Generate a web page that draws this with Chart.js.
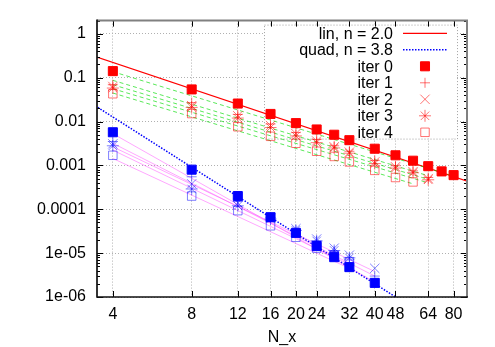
<!DOCTYPE html>
<html><head><meta charset="utf-8">
<style>html,body{margin:0;padding:0;background:#fff;overflow:hidden}</style>
<script src="https://cdn.jsdelivr.net/npm/chart.js"></script>
</head><body>
<canvas id="c" width="495" height="347" style="display:block;width:495px;height:347px"></canvas>
<script>
// ---- tick labels ----
const xTicks = [4, 8, 12, 16, 20, 24, 32, 40, 48, 64, 80];
const yTicks = [1e-6, 1e-5, 1e-4, 1e-3, 1e-2, 1e-1, 1];
const yTickLabels = ['1e-06', '1e-05', '0.0001', '0.001', '0.01', '0.1', '1'];
const legendLabels = ['lin, n = 2.0', 'quad, n = 3.8', 'iter 0', 'iter 1', 'iter 2', 'iter 3', 'iter 4'];

// ---- linear elements (red) ----
const linN = [4, 8, 12, 16, 20, 24, 28, 32, 40, 48, 56, 64, 72, 80];
const linIter0 = [0.141, 0.054, 0.0257, 0.0149, 0.0092, 0.0066, 0.0050, 0.00376, 0.0024, 0.0017, 0.00128, 0.00096, 0.00073, 0.0006];
const linIter1 = [0.069, 0.027, 0.0145, 0.0088, 0.0056, 0.0039, 0.0028, 0.0021, 0.0013, 0.00098, 0.00075, 0.00053];
const linIter2 = [0.063, 0.023, 0.0135, 0.0081, 0.0053, 0.0036, 0.00265, 0.0020, 0.0012, 0.00093, 0.00072, 0.0005];
const linIter3 = [0.058, 0.021, 0.0120, 0.0073, 0.0047, 0.0033, 0.0025, 0.0019, 0.0011, 0.00087, 0.00068, 0.00047];
const linIter4 = [0.043, 0.0152, 0.0076, 0.0046, 0.0032, 0.0021, 0.0016, 0.0012, 0.00077, 0.00053, 0.00042];

// ---- quadratic elements (blue) ----
const quadN = [4, 8, 12, 16, 20, 24, 28, 32, 40];
const quadIter0 = [0.0057, 0.00080, 0.00020, 6.6e-5, 2.9e-5, 1.45e-5, 8.1e-6, 4.8e-6, 2.1e-6];
const quadIter1 = [0.0035, 0.00055, 0.00015, 6.5e-5, 3.3e-5, 1.9e-5, 1.1e-5, 7.0e-6, 3.0e-6];
const quadIter2 = [0.0031, 0.00038, 0.00014, 6.3e-5, 3.6e-5, 2.1e-5, 1.3e-5, 9.0e-6, 4.5e-6];
const quadIter3 = [0.0028, 0.00029, 0.00012, 6.0e-5, 3.3e-5, 1.9e-5, 1.15e-5, 7.8e-6];
const quadIter4 = [0.0017, 0.00020, 0.000093, 4.2e-5, 2.3e-5, 1.3e-5, 9.0e-6, 6.4e-6];

// ---- fitted lines (end points) ----
const linFitN = [3, 100];
const linFitV = [0.396, 0.000356];
const quadFitN = [3, 60];
const quadFitV = [0.0378, 4.3e-7];
const linIterFitN = [[4, 80], [4, 64], [4, 64], [4, 64], [4, 56]];
const linIterFitV = [[0.137, 0.00057], [0.087, 0.00058], [0.069, 0.00048], [0.056, 0.0004], [0.0447, 0.00038]];
const quadIterFitN = [[4, 40], [4, 40], [4, 40], [4, 32], [4, 32]];
const quadIterFitV = [[0.0053, 2.2e-6], [0.0032, 3.0e-6], [0.00265, 3.8e-6], [0.00223, 5.5e-6], [0.00144, 4.5e-6]];

const pts = (xs, ys) => ys.map((v, i) => ({ x: xs[i], y: v }));

const markers = [
  { style: 'rect', r: 6.4, filled: true },
  { style: 'cross', r: 5 },
  { style: 'crossRot', r: 6.6 },
  { style: 'star', r: 6 },
  { style: 'rect', r: 6.0, filled: false }
];
const RED = '#ff0000', RED_L = 'rgba(255,0,0,0.55)';
const BLUE = '#0000ff', BLUE_L = 'rgba(0,0,255,0.5)';

function markerSet(xs, series, strong, light) {
  return series.map((ys, k) => {
    const m = markers[k];
    const col = k === 0 ? strong : light;
    return {
      data: pts(xs, ys), showLine: false,
      pointStyle: m.style, pointRadius: m.r, pointHoverRadius: m.r,
      pointBorderWidth: 1, borderColor: col,
      pointBackgroundColor: m.filled ? col : 'rgba(0,0,0,0)',
      pointBorderColor: col
    };
  });
}
function fitSet(ns, vs, color, dash, width) {
  return ns.map((n, k) => ({
    data: pts(n, vs[k]), showLine: true, pointRadius: 0, pointHoverRadius: 0,
    borderColor: color, borderWidth: width, borderDash: dash, fill: false
  }));
}

const datasets = [
  ...markerSet(linN, [linIter0], RED, RED_L),
  ...markerSet(quadN, [quadIter0], BLUE, BLUE_L),
  ...markerSet(linN, [linIter0, linIter1, linIter2, linIter3, linIter4], RED, RED_L).slice(1),
  ...markerSet(quadN, [quadIter0, quadIter1, quadIter2, quadIter3, quadIter4], BLUE, BLUE_L).slice(1),
  ...fitSet(linIterFitN, linIterFitV, 'rgba(0,220,0,0.65)', [4, 3], 1),
  ...fitSet(quadIterFitN, quadIterFitV, 'rgba(255,60,255,0.45)', [], 1),
  { data: pts(linFitN, linFitV), showLine: true, pointRadius: 0, borderColor: RED, borderWidth: 1.2 },
  { data: pts(quadFitN, quadFitV), showLine: true, pointRadius: 0, borderColor: BLUE, borderWidth: 1.5, borderDash: [1.5, 1.5] }
];

function drawMarker(ctx, style, x, y, r, filled) {
  ctx.beginPath();
  if (style === 'rect') {
    const s = Math.SQRT1_2 * r;
    ctx.rect(x - s, y - s, 2 * s, 2 * s);
    if (filled) ctx.fill();
    ctx.stroke();
    return;
  }
  if (style === 'cross' || style === 'star') {
    ctx.moveTo(x, y - r); ctx.lineTo(x, y + r);
    ctx.moveTo(x - r, y); ctx.lineTo(x + r, y);
  }
  if (style === 'crossRot' || style === 'star') {
    const o = Math.SQRT1_2 * r;
    ctx.moveTo(x - o, y - o); ctx.lineTo(x + o, y + o);
    ctx.moveTo(x - o, y + o); ctx.lineTo(x + o, y - o);
  }
  ctx.stroke();
}

const keyPlugin = {
  id: 'key',
  beforeDatasetsDraw(chart) {
    const ctx = chart.ctx;
    const a = chart.chartArea;
    const bx = a.left + 167, by = a.top + 4, bw = 193, bh = 114;
    ctx.save();
    ctx.fillStyle = '#fff';
    ctx.fillRect(bx, by, bw, bh);
    ctx.setLineDash([1, 2]);
    ctx.strokeStyle = '#a0a0a0';
    ctx.lineWidth = 1;
    ctx.strokeRect(bx + 0.5, by + 0.5, bw, bh);
    ctx.setLineDash([]);
    ctx.font = '16px "Liberation Sans", Arial, sans-serif';
    ctx.textAlign = 'right';
    ctx.textBaseline = 'middle';
    const tx = bx + 129, sx0 = bx + 139, sx1 = bx + 183, mx = bx + 161;
    legendLabels.forEach((t, i) => {
      const yy = by + 8.7 + i * 16.5;
      ctx.fillStyle = '#000';
      ctx.fillText(t, tx, yy + 1);
      ctx.lineWidth = 1;
      if (i === 0) {
        ctx.strokeStyle = RED; ctx.lineWidth = 1.2;
        ctx.beginPath(); ctx.moveTo(sx0, yy); ctx.lineTo(sx1, yy); ctx.stroke();
      } else if (i === 1) {
        ctx.strokeStyle = BLUE; ctx.lineWidth = 1.5; ctx.setLineDash([1.5, 1.5]);
        ctx.beginPath(); ctx.moveTo(sx0, yy); ctx.lineTo(sx1, yy); ctx.stroke();
        ctx.setLineDash([]);
      } else {
        const k = i - 2, m = markers[k];
        const col = k === 0 ? RED : RED_L;
        ctx.strokeStyle = col; ctx.fillStyle = col;
        drawMarker(ctx, m.style, mx, yy, m.r, m.filled);
      }
    });
    ctx.restore();
  },
  afterDraw(chart) {
    const ctx = chart.ctx;
    const a = chart.chartArea;
    const xs = chart.scales.x, ys = chart.scales.y;
    ctx.save();
    ctx.strokeStyle = '#000';
    ctx.lineWidth = 1;
    ctx.beginPath();
    for (let e = -6; e <= 0; e++) {
      for (let m = 1; m <= 9; m++) {
        const v = m * Math.pow(10, e);
        if (v > ys.max) continue;
        const py = Math.round(ys.getPixelForValue(v)) + 0.5;
        const len = m === 1 ? 6 : 3;
        ctx.moveTo(a.left, py); ctx.lineTo(a.left + len, py);
        ctx.moveTo(a.right, py); ctx.lineTo(a.right - len, py);
      }
    }
    xTicks.forEach(v => {
      const px = Math.round(xs.getPixelForValue(v)) + 0.5;
      ctx.moveTo(px, a.bottom); ctx.lineTo(px, a.bottom - 6);
      ctx.moveTo(px, a.top); ctx.lineTo(px, a.top + 6);
    });
    ctx.stroke();
    // frame: top/right lighter, left/bottom dark (as in the reference)
    ctx.lineWidth = 2;
    ctx.strokeStyle = '#808080';
    ctx.beginPath();
    ctx.moveTo(a.left, a.top); ctx.lineTo(a.right, a.top); ctx.lineTo(a.right, a.bottom);
    ctx.stroke();
    ctx.lineWidth = 1.7;
    ctx.strokeStyle = '#111';
    ctx.beginPath();
    ctx.moveTo(a.left, a.top - 1); ctx.lineTo(a.left, a.bottom); ctx.lineTo(a.right + 1, a.bottom);
    ctx.stroke();
    ctx.restore();
  }
};

Chart.defaults.font.family = '"Liberation Sans", Arial, sans-serif';
Chart.defaults.font.size = 16;
Chart.defaults.color = '#000';

new Chart(document.getElementById('c'), {
  type: 'scatter',
  data: { datasets },
  options: {
    responsive: false,
    animation: false,
    devicePixelRatio: 1,
    layout: { padding: { top: 20, right: 28, left: 0, bottom: 0 } },
    plugins: { legend: { display: false }, tooltip: { enabled: false } },
    scales: {
      x: {
        type: 'logarithmic', min: 3.48, max: 90,
        afterBuildTicks: s => { s.ticks = xTicks.map(v => ({ value: v })); },
        afterFit: s => { s.height = 50; },
        ticks: { autoSkip: false, maxRotation: 0, padding: 8, callback: v => String(v) },
        grid: { color: '#b0b0b0', drawTicks: false, lineWidth: 1 },
        border: { display: false, dash: [1, 2] },
        title: { display: true, text: 'N_x', padding: { top: 0, bottom: 0 } }
      },
      y: {
        type: 'logarithmic', min: 1e-6, max: 2,
        afterBuildTicks: s => { s.ticks = yTicks.map(v => ({ value: v })); },
        afterFit: s => { s.width = 97; },
        ticks: { padding: 11, callback: (v, i) => yTickLabels[i] },
        grid: { color: '#b0b0b0', drawTicks: false, lineWidth: 1 },
        border: { display: false, dash: [1, 2] }
      }
    }
  },
  plugins: [keyPlugin]
});
</script>
</body></html>
